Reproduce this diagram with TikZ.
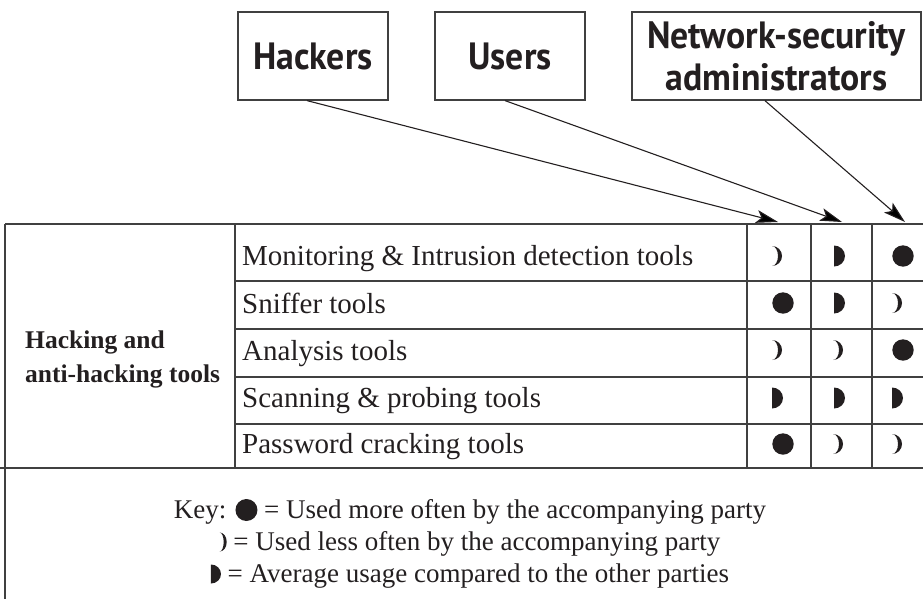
\documentclass[tikz,border=0pt]{standalone}
\usepackage{fontspec}
\newfontfamily\boxfont[FakeStretch=0.94]{PT Sans}
\newfontfamily\rowfont{Liberation Serif}
\usetikzlibrary{arrows.meta,calc}
\definecolor{linec}{HTML}{404040}
\definecolor{inkc}{HTML}{231F20}
\newcommand{\symfull}{\tikz[baseline={(0pt,-8pt)}]\fill[inkc] (0pt,0pt) circle (11pt);}
\newcommand{\symhalf}{\tikz[baseline={(0pt,-8pt)}]\fill[inkc] (0pt,9.5pt) arc[start angle=90,end angle=-90,x radius=10pt,y radius=9.5pt] -- cycle;}
\newcommand{\symcres}{\tikz[baseline={(0pt,-8pt)}]\fill[inkc] (0pt,9.5pt) arc[start angle=90,end angle=-90,x radius=7pt,y radius=9.5pt] arc[start angle=-90,end angle=90,x radius=4pt,y radius=9.5pt] -- cycle;}
\begin{document}
\begin{tikzpicture}[x=1pt,y=1pt,
  pbox/.style={draw=linec, line width=1.2pt, inner sep=0pt, minimum height=88pt,
    text=inkc, font=\boxfont\bfseries\fontsize{38}{42}\selectfont, align=center},
  tline/.style={draw=linec, line width=1.3pt},
  rowtxt/.style={anchor=base west, inner sep=0pt, text=inkc, font=\rowfont\fontsize{29}{30}\selectfont},
  labtxt/.style={anchor=base west, inner sep=0pt, text=inkc, font=\rowfont\bfseries\fontsize{25.5}{30}\selectfont},
  keytxt/.style={anchor=base, inner sep=0pt, text=inkc, font=\rowfont\fontsize{27}{30}\selectfont},
  arr/.style={draw=inkc, line width=1.1pt, -{Stealth[length=22pt,width=13pt,inset=5pt]}},
  fullm/.pic={\fill[inkc] (0,0) circle (10.7);},
  halfm/.pic={\fill[inkc] (0,10.5) arc[start angle=90,end angle=-90,x radius=11,y radius=10.5] -- cycle;},
  cresm/.pic={\fill[inkc] (0,10) arc[start angle=90,end angle=-90,x radius=10,y radius=10] arc[start angle=-90,end angle=90,x radius=6,y radius=10] -- cycle;}
]
\useasboundingbox (0,0) rectangle (923,-599);

% party boxes
\node[pbox, minimum width=150pt] (hack) at (313,-56) {Hackers};
\node[pbox, minimum width=150pt] (user) at (510,-56) {Users};
\node[pbox, minimum width=289pt] (netw) at (776.5,-56) {Network-security\\administrators};

% table lines
\draw[tline] (5,-224) -- (923,-224);
\draw[tline] (5,-224) -- (5,-599);
\draw[tline] (235,-224) -- (235,-468);
\foreach \yy in {281,329,377,424} \draw[tline] (235,-\yy) -- (923,-\yy);
\draw[tline] (0,-468) -- (923,-468);
\foreach \xx in {747,811,872} \draw[tline] (\xx,-224) -- (\xx,-468);

% row label
\node[labtxt] (lab1) at (25,-348) {Hacking and};
\node[labtxt] (lab2) at (25,-382) {anti-hacking tools};

% row texts
\node[rowtxt] (r1) at (242,-265) {Monitoring \& Intrusion detection tools};
\node[rowtxt] (r2) at (242,-313) {Sniffer tools};
\node[rowtxt] (r3) at (242,-360) {Analysis tools};
\node[rowtxt] (r4) at (242,-407) {Scanning \& probing tools};
\node[rowtxt] (r5) at (242,-453) {Password cracking tools};

% symbols row 1
\pic at (772,-256) {cresm};
\pic at (834,-256) {halfm};
\pic at (903,-256) {fullm};
% row 2
\pic at (783,-303) {fullm};
\pic at (834,-303) {halfm};
\pic at (892,-303) {cresm};
% row 3
\pic at (772,-350) {cresm};
\pic at (833,-350) {cresm};
\pic at (903,-350) {fullm};
% row 4
\pic at (772,-398) {halfm};
\pic at (834,-398) {halfm};
\pic at (892,-398) {halfm};
% row 5
\pic at (783,-444) {fullm};
\pic at (833,-444) {cresm};
\pic at (892,-444) {cresm};

% key
\node[keytxt] (k1) at (470,-518) {Key: \symfull{} = Used more often by the accompanying party};
\node[keytxt] (k2) at (470,-550) {\symcres{} = Used less often by the accompanying party};
\node[keytxt] (k3) at (470,-582) {\symhalf{} = Average usage compared to the other parties};

% arrows
\coordinate (e1) at (778,-222);
\coordinate (e2) at (842,-222);
\coordinate (e3) at (905,-222);
\draw[arr] ($(hack.south west)!0.46!(hack.south east)$) -- (e1);
\draw[arr] ($(user.south west)!0.467!(user.south east)$) -- (e2);
\draw[arr] ($(netw.south west)!0.46!(netw.south east)$) -- (e3);
\end{tikzpicture}
\end{document}
